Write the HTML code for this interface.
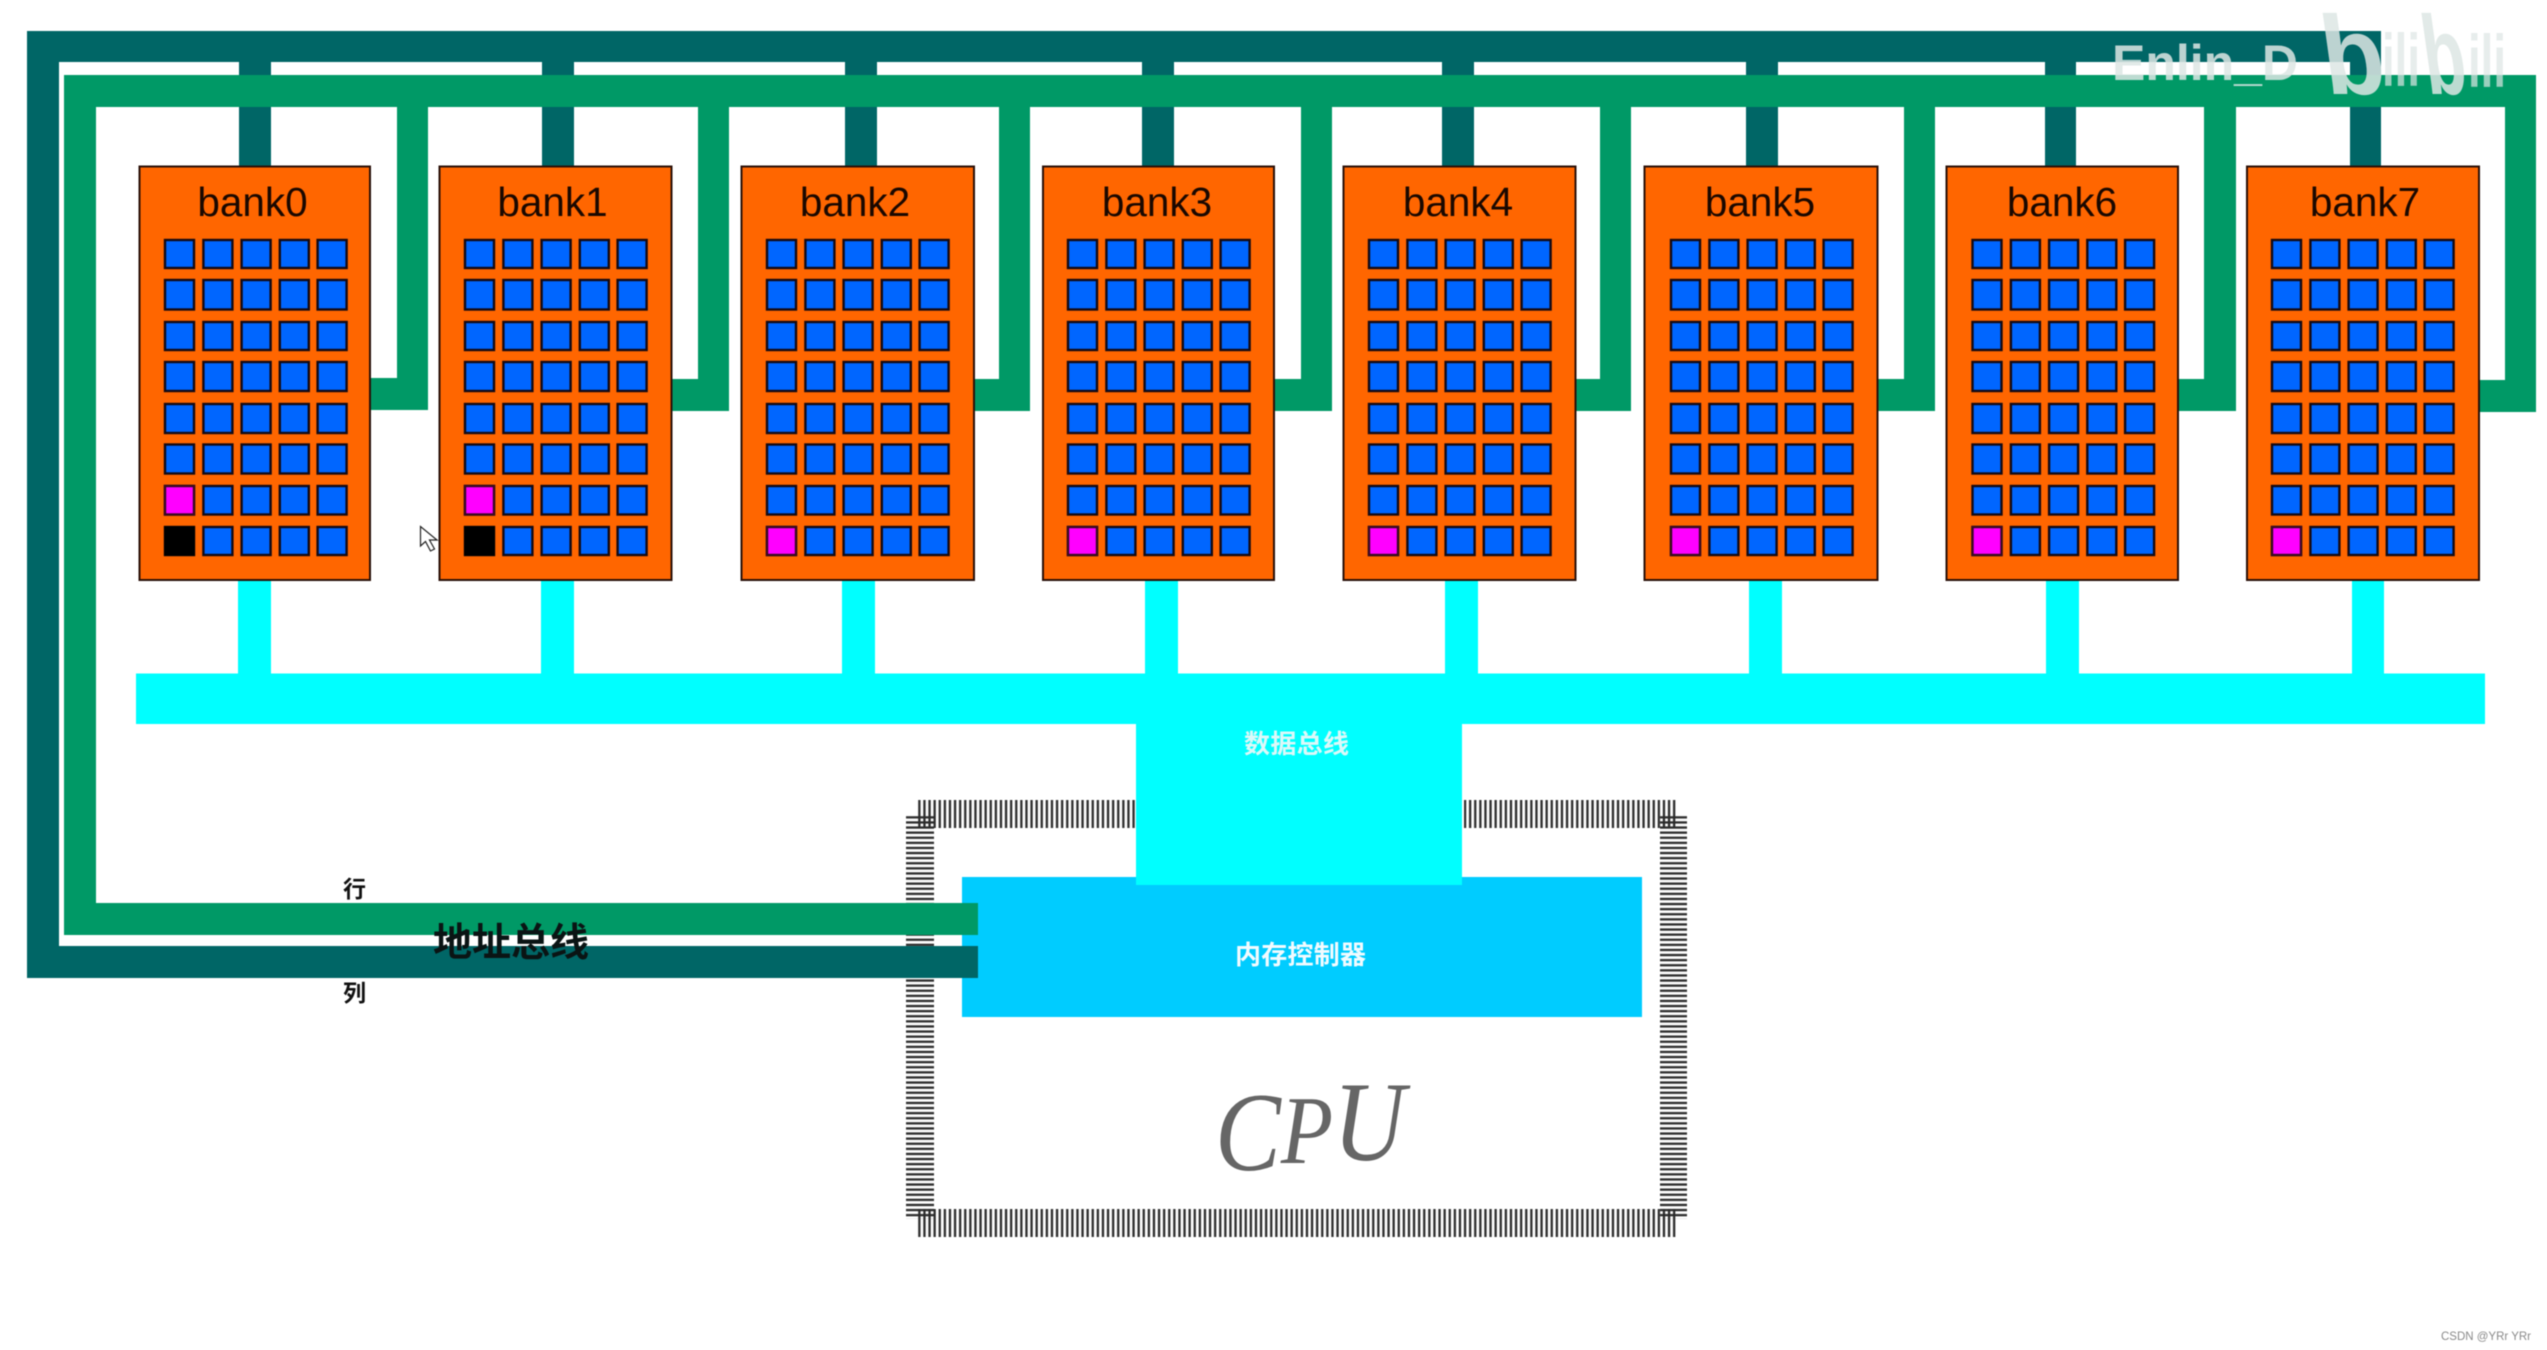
<!DOCTYPE html>
<html lang="zh">
<head>
<meta charset="utf-8">
<title>Memory banks diagram</title>
<style>
html,body{margin:0;padding:0;background:#fff;width:2547px;height:1350px;overflow:hidden}
svg{display:block;filter:blur(.5px)}
.bl{font:40.5px "Liberation Sans",sans-serif;fill:#1a0800;text-anchor:middle}
.zh{font-family:"Liberation Sans","Noto Sans CJK SC",sans-serif;font-weight:700}
</style>
</head>
<body>
<svg xmlns="http://www.w3.org/2000/svg" width="2547" height="1350" viewBox="0 0 2547 1350">
<defs>
<pattern id="pv" patternUnits="userSpaceOnUse" width="5.1" height="10" x="917"><rect x="1.2" width="2.3" height="10" fill="#2a2a2a"/></pattern>
<pattern id="ph" patternUnits="userSpaceOnUse" width="10" height="5.1" y="815"><rect y="1.2" width="10" height="2.3" fill="#2a2a2a"/></pattern>
<g id="cells" fill="#0066ff" stroke="#140a14" stroke-width="2.4">
<rect x="26" y="240" width="29" height="28"/><rect x="64.4" y="240" width="29" height="28"/><rect x="102.6" y="240" width="29" height="28"/><rect x="140.8" y="240" width="29" height="28"/><rect x="178.600" y="240" width="29" height="28"/>
<rect x="26" y="280" width="29" height="29.500"/><rect x="64.4" y="280" width="29" height="29.500"/><rect x="102.6" y="280" width="29" height="29.500"/><rect x="140.8" y="280" width="29" height="29.500"/><rect x="178.600" y="280" width="29" height="29.500"/>
<rect x="26" y="322" width="29" height="28"/><rect x="64.4" y="322" width="29" height="28"/><rect x="102.6" y="322" width="29" height="28"/><rect x="140.8" y="322" width="29" height="28"/><rect x="178.600" y="322" width="29" height="28"/>
<rect x="26" y="362" width="29" height="29"/><rect x="64.4" y="362" width="29" height="29"/><rect x="102.6" y="362" width="29" height="29"/><rect x="140.8" y="362" width="29" height="29"/><rect x="178.600" y="362" width="29" height="29"/>
<rect x="26" y="404" width="29" height="29"/><rect x="64.4" y="404" width="29" height="29"/><rect x="102.6" y="404" width="29" height="29"/><rect x="140.8" y="404" width="29" height="29"/><rect x="178.600" y="404" width="29" height="29"/>
<rect x="26" y="444.500" width="29" height="29"/><rect x="64.4" y="444.500" width="29" height="29"/><rect x="102.6" y="444.500" width="29" height="29"/><rect x="140.8" y="444.500" width="29" height="29"/><rect x="178.600" y="444.500" width="29" height="29"/>
<rect x="26" y="486" width="29" height="28.500"/><rect x="64.4" y="486" width="29" height="28.500"/><rect x="102.6" y="486" width="29" height="28.500"/><rect x="140.8" y="486" width="29" height="28.500"/><rect x="178.600" y="486" width="29" height="28.500"/>
<rect x="26" y="527" width="29" height="28"/><rect x="64.4" y="527" width="29" height="28"/><rect x="102.6" y="527" width="29" height="28"/><rect x="140.8" y="527" width="29" height="28"/><rect x="178.600" y="527" width="29" height="28"/>
</g>
</defs>

<rect width="2547" height="1350" fill="#fff"/>

<!-- CPU pins -->
<rect x="917" y="800" width="219" height="28" fill="url(#pv)"/>
<rect x="1464" y="800" width="212" height="28" fill="url(#pv)"/>
<rect x="917" y="1209" width="760" height="28" fill="url(#pv)"/>
<rect x="906" y="815" width="28" height="404" fill="url(#ph)"/>
<rect x="1660" y="815" width="27" height="404" fill="url(#ph)"/>

<!-- controller -->
<rect x="962" y="877" width="680" height="140" fill="#00ccff"/>

<!-- column bus (dark teal) -->
<g fill="#006666">
<rect x="27" y="31" width="2354" height="31"/>
<rect x="27" y="31" width="32" height="947"/>
<rect x="27" y="946" width="951" height="32"/>
<rect x="239" y="31" width="32" height="140"/>
<rect x="542" y="31" width="32" height="140"/>
<rect x="845" y="31" width="32" height="140"/>
<rect x="1142" y="31" width="32" height="140"/>
<rect x="1442" y="31" width="32" height="140"/>
<rect x="1746" y="31" width="32" height="140"/>
<rect x="2045" y="31" width="31" height="140"/>
<rect x="2350" y="31" width="31" height="140"/>
</g>

<!-- row bus (green) -->
<g fill="#009966">
<rect x="64" y="75" width="2472" height="32"/>
<rect x="64" y="75" width="32" height="860"/>
<rect x="64" y="903" width="914" height="32"/>
<rect x="397" y="75" width="31" height="335"/>
<rect x="365" y="378" width="63" height="32"/>
<rect x="698" y="75" width="31" height="336"/>
<rect x="665" y="379" width="64" height="32"/>
<rect x="999" y="75" width="31" height="336"/>
<rect x="970" y="379" width="60" height="32"/>
<rect x="1301" y="75" width="31" height="336"/>
<rect x="1270" y="379" width="62" height="32"/>
<rect x="1600" y="75" width="31" height="336"/>
<rect x="1570" y="379" width="61" height="32"/>
<rect x="1904" y="75" width="31" height="336"/>
<rect x="1870" y="379" width="65" height="32"/>
<rect x="2204" y="75" width="32" height="336"/>
<rect x="2172" y="379" width="64" height="32"/>
<rect x="2505" y="75" width="31" height="337"/>
<rect x="2475" y="380" width="61" height="32"/>
</g>

<!-- data bus -->
<g fill="#00ffff">
<rect x="136" y="673.500" width="2349" height="50.500"/>
<rect x="1136" y="700" width="326" height="185"/>
<rect x="238" y="578" width="33" height="100"/>
<rect x="541" y="578" width="33" height="100"/>
<rect x="842" y="578" width="33" height="100"/>
<rect x="1145" y="578" width="33" height="100"/>
<rect x="1445" y="578" width="33" height="100"/>
<rect x="1749" y="578" width="33" height="100"/>
<rect x="2046" y="578" width="33" height="100"/>
<rect x="2352" y="578" width="32" height="100"/>
</g>

<!-- banks -->
<g fill="#ff6600" stroke="#2a1008" stroke-width="2">
<rect x="139.500" y="166.500" width="230.500" height="413.500"/>
<rect x="439.500" y="166.500" width="232" height="413.500"/>
<rect x="741.500" y="166.500" width="232.500" height="413.500"/>
<rect x="1043" y="166.500" width="231" height="413.500"/>
<rect x="1343.500" y="166.500" width="232" height="413.500"/>
<rect x="1644.500" y="166.500" width="233" height="413.500"/>
<rect x="1946.500" y="166.500" width="231.500" height="413.500"/>
<rect x="2247" y="166.500" width="232" height="413.500"/>
</g>
<use href="#cells" x="139"/>
<use href="#cells" x="439"/>
<use href="#cells" x="741"/>
<use href="#cells" x="1042"/>
<use href="#cells" x="1343"/>
<use href="#cells" x="1645"/>
<use href="#cells" x="1946.500"/>
<use href="#cells" x="2246"/>

<!-- selected cells -->
<g stroke="#3a0a20" stroke-width="2.400" fill="#ff00ff">
<rect x="165" y="486" width="29" height="28.500"/>
<rect x="465" y="486" width="29" height="28.500"/>
<rect x="767" y="527" width="29" height="28"/>
<rect x="1068" y="527" width="29" height="28"/>
<rect x="1369" y="527" width="29" height="28"/>
<rect x="1671" y="527" width="29" height="28"/>
<rect x="1972.500" y="527" width="29" height="28"/>
<rect x="2272" y="527" width="29" height="28"/>
</g>
<g fill="#000">
<rect x="164" y="526" width="31" height="30"/>
<rect x="464" y="526" width="31" height="30"/>
</g>

<!-- bank labels -->
<text class="bl" x="252.500" y="216">bank0</text>
<text class="bl" x="552.500" y="216">bank1</text>
<text class="bl" x="855" y="216">bank2</text>
<text class="bl" x="1157" y="216">bank3</text>
<text class="bl" x="1458" y="216">bank4</text>
<text class="bl" x="1760" y="216">bank5</text>
<text class="bl" x="2062" y="216">bank6</text>
<text class="bl" x="2365" y="216">bank7</text>

<!-- chinese labels -->
<text class="zh" x="1244" y="753" font-size="26" fill="#dcf9f9" textLength="105">数据总线</text>
<text class="zh" x="1235" y="964" font-size="26" fill="#f2fbff" textLength="131">内存控制器</text>
<text class="zh" x="433" y="956" font-size="39" fill="#0a1414" textLength="156">地址总线</text>
<text class="zh" x="343" y="897" font-size="23" fill="#111">行</text>
<text class="zh" x="343" y="1001" font-size="23" fill="#111">列</text>

<!-- CPU -->
<text x="1215" y="1170" font-family="'Liberation Serif',serif" font-style="italic" font-size="112" fill="#666" textLength="190" lengthAdjust="spacingAndGlyphs">C<tspan dy="-7" font-size="97">P</tspan><tspan dy="-3" font-size="113">U</tspan></text>

<!-- cursor -->
<polygon points="420.500,526.500 420.500,546 425.500,541.500 430.500,551 434.500,549 429.500,540 437,540" fill="#fff" stroke="#222" stroke-width="1.200"/>

<!-- watermark -->
<g fill="#dde6e4" fill-opacity=".85" font-family="'Liberation Sans',sans-serif" font-weight="700">
<text x="2112" y="80" font-size="50" textLength="186" lengthAdjust="spacingAndGlyphs">Enlin_D</text>
<text transform="translate(2327,94) skewX(8)" font-size="112" textLength="62" lengthAdjust="spacingAndGlyphs">b</text>
<text x="2382" y="86" font-size="74" textLength="38" lengthAdjust="spacingAndGlyphs" fill-opacity=".7">ili</text>
<text transform="translate(2428,94) skewX(8)" font-size="112" textLength="42" lengthAdjust="spacingAndGlyphs">b</text>
<text x="2468" y="87" font-size="74" textLength="38" lengthAdjust="spacingAndGlyphs" fill-opacity=".7">ili</text>
</g>

<!-- footer -->
<text x="2441" y="1340" font-family="'Liberation Sans',sans-serif" font-size="12" fill="#8a8a8a" textLength="90" lengthAdjust="spacingAndGlyphs">CSDN @YRr YRr</text>
</svg>
</body>
</html>
